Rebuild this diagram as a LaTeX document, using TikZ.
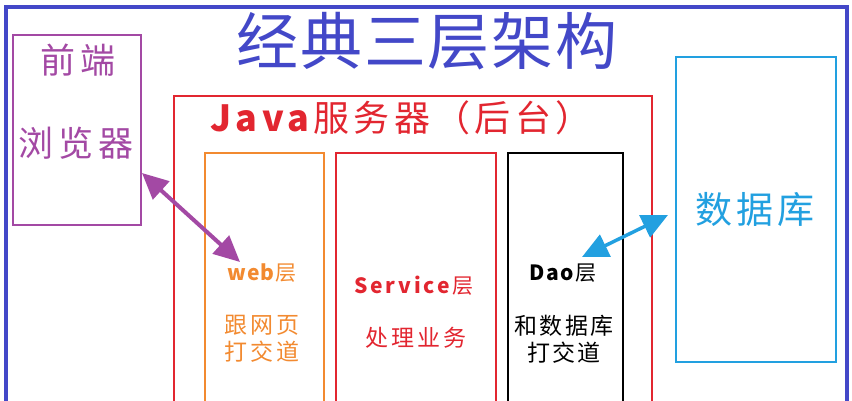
\documentclass[tikz,border=0pt]{standalone}
\usepackage{fontspec}
\setmainfont{Noto Sans CJK SC}
\newfontfamily\cjk{Noto Sans CJK SC}
\usetikzlibrary{arrows.meta}
\definecolor{frameblue}{RGB}{67,72,200}
\definecolor{fpurple}{RGB}{163,73,164}
\definecolor{fred}{RGB}{226,38,48}
\definecolor{forange}{RGB}{242,138,48}
\definecolor{fcyan}{RGB}{34,160,224}
\tikzset{
  box/.style={draw, line width=2pt, anchor=north west, inner sep=0pt},
  lbl/.style={inner sep=0pt, align=center},
  dbl/.style={line width=4pt, {Triangle[length=26pt,width=24pt]}-{Triangle[length=26pt,width=24pt]}}
}
\begin{document}
\begin{tikzpicture}[x=1pt,y=-1pt]
\useasboundingbox (0,0) rectangle (852,400);
% outer frame
\node[box, frameblue, line width=4pt, minimum width=841pt, minimum height=420pt] (frame) at (4,5) {};
% title
\node[lbl, text=frameblue, font=\cjk\fontsize{62}{64}\selectfont\addfontfeatures{LetterSpace=3}] (title) at (427,41) {经典三层架构};
% front-end browser
\node[box, fpurple, minimum width=128pt, minimum height=190pt] (browser) at (12,34) {};
\node[lbl, text=fpurple, font=\cjk\fontsize{35}{36}\selectfont\addfontfeatures{LetterSpace=15}] (fe) at (78,60) {前端};
\node[lbl, text=fpurple, font=\cjk\fontsize{35}{36}\selectfont\addfontfeatures{LetterSpace=15}] (br) at (76,143) {浏览器};
% java server
\node[box, fred, minimum width=478pt, minimum height=330pt] (java) at (173,95) {};
\node[lbl, text=fred, font=\cjk\fontsize{36}{38}\selectfont\addfontfeatures{LetterSpace=12}] (javat) at (401,118) {\textbf{Java}服务器（后台）};
% layers
\node[box, forange, minimum width=119pt, minimum height=270pt] (web) at (204,152) {};
\node[box, fred, minimum width=160pt, minimum height=270pt] (service) at (335,152) {};
\node[box, black, minimum width=115pt, minimum height=270pt] (dao) at (507,152) {};
\node[lbl, text=forange, font=\cjk\fontsize{21}{22}\selectfont\addfontfeatures{LetterSpace=6}] (webt) at (262,273) {\textbf{web}层};
\node[lbl, text=forange, font=\cjk\fontsize{23}{27}\selectfont\addfontfeatures{LetterSpace=14}] (webd) at (262,339) {跟网页\\打交道};
\node[lbl, text=fred, font=\cjk\fontsize{21}{22}\selectfont\addfontfeatures{LetterSpace=14}] (servt) at (414,286) {\textbf{Service}层};
\node[lbl, text=fred, font=\cjk\fontsize{23}{27}\selectfont\addfontfeatures{LetterSpace=12}] (servd) at (416,338) {处理业务};
\node[lbl, text=black, font=\cjk\fontsize{21}{22}\selectfont\addfontfeatures{LetterSpace=6}] (daot) at (563,273) {\textbf{Dao}层};
\node[lbl, text=black, font=\cjk\fontsize{23}{27}\selectfont\addfontfeatures{LetterSpace=10}] (daod) at (564,339) {和数据库\\打交道};
% database
\node[box, fcyan, minimum width=160pt, minimum height=305pt] (db) at (675,56) {};
\node[lbl, text=fcyan, font=\cjk\fontsize{37}{38}\selectfont\addfontfeatures{LetterSpace=12}] (dbt) at (755,210) {数据库};
% arrows
\coordinate (pa) at (142,173);
\coordinate (pb) at (240,262);
\draw[dbl, fpurple] (pa) -- (pb);
\coordinate (ca) at (582,257);
\coordinate (cb) at (668,215);
\draw[dbl, fcyan, line width=3.5pt] (ca) -- (cb);
\end{tikzpicture}
\end{document}
